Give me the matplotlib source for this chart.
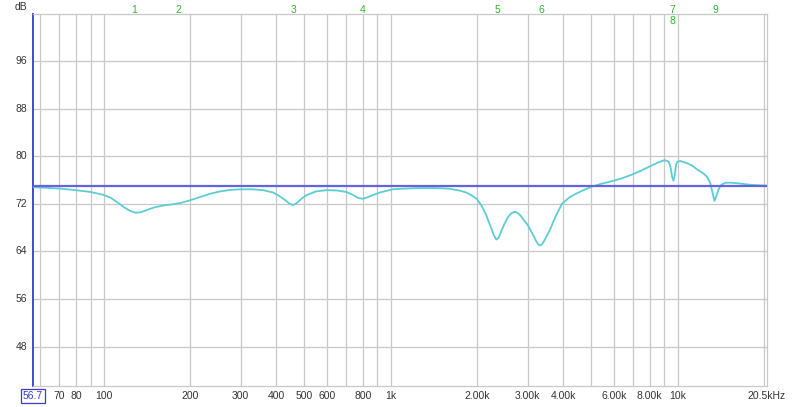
import matplotlib
matplotlib.use("Agg")
import matplotlib.pyplot as plt
from matplotlib.transforms import blended_transform_factory

# ---- data ----
freq = [56.7, 63, 71, 80, 90, 100, 106, 112, 118, 124, 129, 135, 142, 150, 162, 175, 187,
        200, 215, 235, 255, 276, 300, 330, 360, 390, 410, 430, 445, 457, 470, 490, 511,
        550, 600, 650, 700, 740, 770, 800, 830, 870, 916, 1016, 1100, 1260, 1450, 1603,
        1750, 1836, 1920, 2000, 2080, 2154, 2230, 2290, 2335, 2380, 2430, 2490, 2560,
        2630, 2695, 2760, 2830, 2920, 3000, 3112, 3220, 3270, 3318, 3370, 3430, 3500,
        3566, 3750, 3955, 4200, 4424, 4700, 5028, 5400, 5900, 6400, 6922, 7400, 7930,
        8500, 9010, 9306, 9450, 9580, 9680, 9780, 9880, 9990, 10240, 10700, 11180, 11700,
        12310, 12700, 13020, 13250, 13450, 13650, 13880, 14200, 14680, 15400, 16280,
        18000, 20500]
level = [74.8, 74.7, 74.55, 74.3, 74.0, 73.5, 73.0, 72.2, 71.4, 70.8, 70.5, 70.6, 71.0,
         71.4, 71.75, 71.95, 72.2, 72.6, 73.1, 73.7, 74.1, 74.35, 74.45, 74.45, 74.3,
         73.9, 73.3, 72.6, 72.0, 71.8, 72.1, 72.9, 73.5, 74.1, 74.3, 74.25, 74.0, 73.5,
         73.0, 72.85, 73.1, 73.5, 73.9, 74.45, 74.55, 74.65, 74.65, 74.55, 74.2, 73.9,
         73.4, 72.8, 71.6, 70.1, 68.2, 66.7, 66.0, 66.3, 67.4, 68.6, 69.7, 70.4, 70.65,
         70.55, 70.1, 69.2, 68.5, 67.1, 65.7, 65.2, 65.0, 65.2, 65.8, 66.6, 67.3, 69.8,
         72.0, 73.1, 73.7, 74.3, 74.9, 75.35, 75.8, 76.3, 76.9, 77.5, 78.2, 78.9, 79.35,
         79.1, 78.2, 76.5, 75.9, 76.8, 78.6, 79.1, 79.2, 78.9, 78.5, 77.8, 77.1, 76.5,
         75.4, 73.8, 72.5, 73.3, 74.4, 75.2, 75.55, 75.55, 75.45, 75.2, 75.05]
target_level = 75.0

filter_ids = ["1", "2", "3", "4", "5", "6", "7", "8", "9"]
filter_freqs = [128, 182, 457, 800, 2350, 3340, 9600, 9600, 13550]
filter_rows = [0, 0, 0, 0, 0, 0, 0, 1, 0]

xtick_vals = [70, 80, 100, 200, 300, 400, 500, 600, 800, 1000, 2000, 3000, 4000,
              6000, 8000, 10000, 20500]
xtick_labels = ["70", "80", "100", "200", "300", "400", "500", "600", "800", "1k",
                "2.00k", "3.00k", "4.00k", "6.00k", "8.00k", "10k", "20.5kHz"]
xgrid_vals = [60, 70, 80, 90, 100, 200, 300, 400, 500, 600, 700, 800, 900, 1000,
              2000, 3000, 4000, 5000, 6000, 7000, 8000, 9000, 10000, 20000]
ytick_vals = [48, 56, 64, 72, 80, 88, 96]
x_min, x_max = 56.7, 20500
y_min, y_max = 41.4, 103.9

plt.rcParams['font.family'] = ['Liberation Sans', 'DejaVu Sans']

fig = plt.figure(figsize=(8.0, 4.07), dpi=100)
ax = fig.add_axes([33/800, 21/407, 734/800, 372/407])
ax.set_xscale('log')
ax.set_xlim(x_min, x_max)
ax.set_ylim(y_min, y_max)

grid_c = '#c8c8c8'
for gv in xgrid_vals:
    ax.axvline(gv, color=grid_c, lw=0.9, zorder=1)
for yv in ytick_vals:
    ax.axhline(yv, color=grid_c, lw=0.9, zorder=1)

ax.plot(freq, level, color='#5ccdd4', lw=1.3, zorder=3)
ax.axhline(target_level, color='#6464dc', lw=1.6, zorder=4)

for s in ['top', 'right', 'bottom']:
    ax.spines[s].set_color(grid_c)
    ax.spines[s].set_linewidth(0.9)
ax.spines['left'].set_color('#4646d2')
ax.spines['left'].set_linewidth(1.4)

ax.set_xticks([])
ax.set_yticks([])
ax.minorticks_off()

tx = blended_transform_factory(ax.transData, ax.transAxes)
ty = blended_transform_factory(ax.transAxes, ax.transData)
lab_c = '#333333'
fs = 7.5
for v, l in zip(xtick_vals, xtick_labels):
    ax.text(v, -0.027, l, transform=tx, ha='center', va='center', fontsize=fs, color=lab_c)
ax.text(x_min, -0.027, "56.7", transform=tx, ha='center', va='center', fontsize=fs,
        color='#3c3cc8',
        bbox=dict(boxstyle='square,pad=0.15', fc='white', ec='#3c3cc8', lw=0.9))
for yv in ytick_vals:
    ax.text(-0.008, yv, str(yv), transform=ty, ha='right', va='center', fontsize=fs,
            color=lab_c)
ax.text(-0.008, 1.018, "dB", transform=ax.transAxes, ha='right', va='center',
        fontsize=fs, color=lab_c)

for fid, ff, row in zip(filter_ids, filter_freqs, filter_rows):
    ax.text(ff, 1.011 - 0.03 * row, fid, transform=tx, ha='center', va='center',
            fontsize=fs, color='#2eb82e', clip_on=False)

fig.savefig('out.png', dpi=100, facecolor='white')
